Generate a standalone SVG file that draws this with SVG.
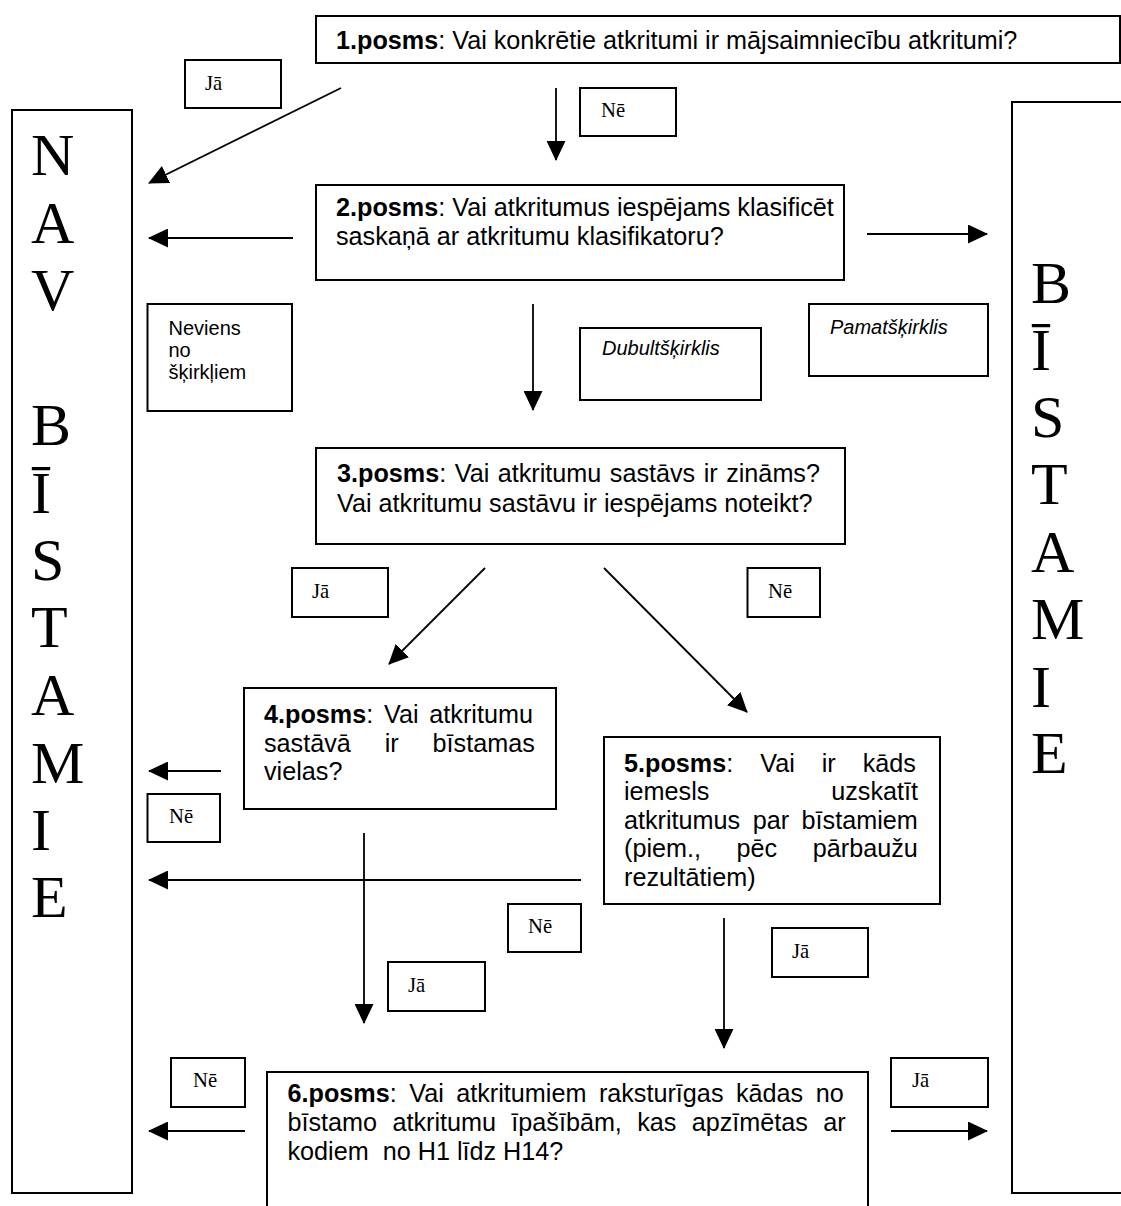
<svg xmlns="http://www.w3.org/2000/svg" width="1121" height="1206" viewBox="0 0 1121 1206">
  <defs>
    <marker id="ah" markerUnits="userSpaceOnUse" viewBox="0 0 20 19" markerWidth="20" markerHeight="19" refX="19" refY="9.5" orient="auto">
      <path d="M0,0 L20,9.5 L0,19 Z" fill="#000"/>
    </marker>
    <style>
      .box { fill: #fff; stroke: #000; stroke-width: 2; }
      .t { font-family: "Liberation Sans", Arial, sans-serif; font-size: 25.2px; fill: #000; }
      .b { font-weight: bold; }
      .sm { font-family: "Liberation Sans", Arial, sans-serif; font-size: 20px; fill: #000; }
      .it { font-style: italic; }
      .lbl { font-family: "Liberation Serif", "Times New Roman", serif; font-size: 20.7px; fill: #000; }
      .big { font-family: "Liberation Serif", "Times New Roman", serif; font-size: 60px; fill: #000; }
      .conn line { stroke: #000; stroke-width: 1.8; marker-end: url(#ah); }
    </style>
  </defs>
  <rect width="1121" height="1206" fill="#fff"/>

  <!-- outcome columns -->
  <g id="nav-bistamie">
    <rect class="box" x="12" y="110" width="120" height="1083"/>
    <text class="big" x="31" y="175">N</text>
    <text class="big" x="31" y="243">A</text>
    <text class="big" x="31" y="310">V</text>
    <text class="big" x="31" y="445">B</text>
    <text class="big" x="31" y="513">Ī</text>
    <text class="big" x="31" y="580">S</text>
    <text class="big" x="31" y="647">T</text>
    <text class="big" x="31" y="715">A</text>
    <text class="big" x="31" y="783">M</text>
    <text class="big" x="31" y="850">I</text>
    <text class="big" x="31" y="917">E</text>
  </g>
  <g id="bistamie">
    <rect class="box" x="1012" y="102" width="125" height="1091"/>
    <text class="big" x="1031" y="303">B</text>
    <text class="big" x="1031" y="370">Ī</text>
    <text class="big" x="1031" y="437">S</text>
    <text class="big" x="1031" y="504">T</text>
    <text class="big" x="1031" y="572">A</text>
    <text class="big" x="1031" y="639">M</text>
    <text class="big" x="1031" y="707">I</text>
    <text class="big" x="1031" y="773">E</text>
  </g>

  <!-- decision steps -->
  <g id="step1">
    <rect class="box" x="316" y="16" width="804" height="47"/>
    <text class="t" x="336" y="49"><tspan class="b">1.posms</tspan>: Vai konkrētie atkritumi ir mājsaimniecību atkritumi?</text>
  </g>
  <g id="step2">
    <rect class="box" x="316" y="185" width="528" height="95"/>
    <text class="t" x="336" y="216"><tspan class="b">2.posms</tspan>: Vai atkritumus iespējams klasificēt</text>
    <text class="t" x="336" y="245">saskaņā ar atkritumu klasifikatoru?</text>
  </g>
  <g id="step3">
    <rect class="box" x="316" y="448" width="529" height="96"/>
    <text class="t" x="337" y="482" word-spacing="1.5"><tspan class="b">3.posms</tspan>: Vai atkritumu sastāvs ir zināms?</text>
    <text class="t" x="337" y="512">Vai atkritumu sastāvu ir iespējams noteikt?</text>
  </g>
  <g id="step4">
    <rect class="box" x="244" y="688" width="312" height="121"/>
    <text class="t" x="264" y="723" word-spacing="3.8"><tspan class="b">4.posms</tspan>: Vai atkritumu</text>
    <text class="t" x="264" y="752" word-spacing="26.9">sastāvā ir bīstamas</text>
    <text class="t" x="264" y="780">vielas?</text>
  </g>
  <g id="step5">
    <rect class="box" x="604" y="737" width="336" height="167"/>
    <text class="t" x="624" y="772" word-spacing="20"><tspan class="b">5.posms</tspan>: Vai ir kāds</text>
    <text class="t" x="624" y="800">iemesls</text>
    <text class="t" x="918" y="800" text-anchor="end">uzskatīt</text>
    <text class="t" x="624" y="829" word-spacing="5.5">atkritumus par bīstamiem</text>
    <text class="t" x="624" y="857" word-spacing="28.6">(piem., pēc pārbaužu</text>
    <text class="t" x="624" y="886">rezultātiem)</text>
  </g>
  <g id="step6">
    <rect class="box" x="267" y="1072" width="601" height="150"/>
    <text class="t" x="287.5" y="1102" word-spacing="5.5"><tspan class="b">6.posms</tspan>: Vai atkritumiem raksturīgas kādas no</text>
    <text class="t" x="287.5" y="1131" word-spacing="8.3">bīstamo atkritumu īpašībām, kas apzīmētas ar</text>
    <text class="t" x="287.5" y="1160">kodiem&#160; no H1 līdz H14?</text>
  </g>

  <!-- classification notes -->
  <g id="note-neviens">
    <rect class="box" x="147.5" y="304" width="144.5" height="107"/>
    <text class="sm" x="168.5" y="335">Neviens</text>
    <text class="sm" x="168.5" y="357">no</text>
    <text class="sm" x="168.5" y="379">šķirkļiem</text>
  </g>
  <g id="note-dubult">
    <rect class="box" x="580" y="328" width="181" height="72"/>
    <text class="sm it" x="602" y="355">Dubultšķirklis</text>
  </g>
  <g id="note-pamat">
    <rect class="box" x="809" y="304" width="179" height="72"/>
    <text class="sm it" x="830" y="334">Pamatšķirklis</text>
  </g>

  <!-- answer labels -->
  <g id="lbl-ja-1"><rect class="box" x="185" y="60" width="96" height="48"/><text class="lbl" x="205" y="90">Jā</text></g>
  <g id="lbl-ne-1"><rect class="box" x="580" y="88" width="96" height="48"/><text class="lbl" x="601" y="117">Nē</text></g>
  <g id="lbl-ja-3"><rect class="box" x="292" y="568" width="96" height="49"/><text class="lbl" x="312" y="598">Jā</text></g>
  <g id="lbl-ne-3"><rect class="box" x="747.5" y="568" width="72.5" height="49"/><text class="lbl" x="768" y="598">Nē</text></g>
  <g id="lbl-ne-4"><rect class="box" x="147.5" y="794" width="72.5" height="48"/><text class="lbl" x="169" y="823">Nē</text></g>
  <g id="lbl-ne-5"><rect class="box" x="508" y="904" width="73" height="48"/><text class="lbl" x="528" y="933">Nē</text></g>
  <g id="lbl-ja-4"><rect class="box" x="388" y="962" width="97" height="49"/><text class="lbl" x="408" y="992">Jā</text></g>
  <g id="lbl-ja-5"><rect class="box" x="772" y="928" width="96" height="49"/><text class="lbl" x="792" y="958">Jā</text></g>
  <g id="lbl-ne-6"><rect class="box" x="171" y="1058" width="74" height="49"/><text class="lbl" x="193" y="1087">Nē</text></g>
  <g id="lbl-ja-6"><rect class="box" x="891" y="1058" width="97" height="49"/><text class="lbl" x="912" y="1087">Jā</text></g>

  <!-- connectors -->
  <g id="connectors" class="conn">
    <line x1="341" y1="88" x2="149" y2="183"/>
    <line x1="556" y1="88" x2="556" y2="160"/>
    <line x1="293" y1="238" x2="149" y2="238"/>
    <line x1="867" y1="234" x2="987" y2="234"/>
    <line x1="533" y1="304" x2="533" y2="410"/>
    <line x1="485" y1="568" x2="389" y2="664"/>
    <line x1="604" y1="568" x2="747" y2="712"/>
    <line x1="221" y1="771" x2="149" y2="771"/>
    <line x1="581" y1="880" x2="149" y2="880"/>
    <line x1="364" y1="833" x2="364" y2="1023"/>
    <line x1="724" y1="918" x2="724" y2="1048"/>
    <line x1="245" y1="1131" x2="149" y2="1131"/>
    <line x1="891" y1="1131" x2="987" y2="1131"/>
  </g>
</svg>
